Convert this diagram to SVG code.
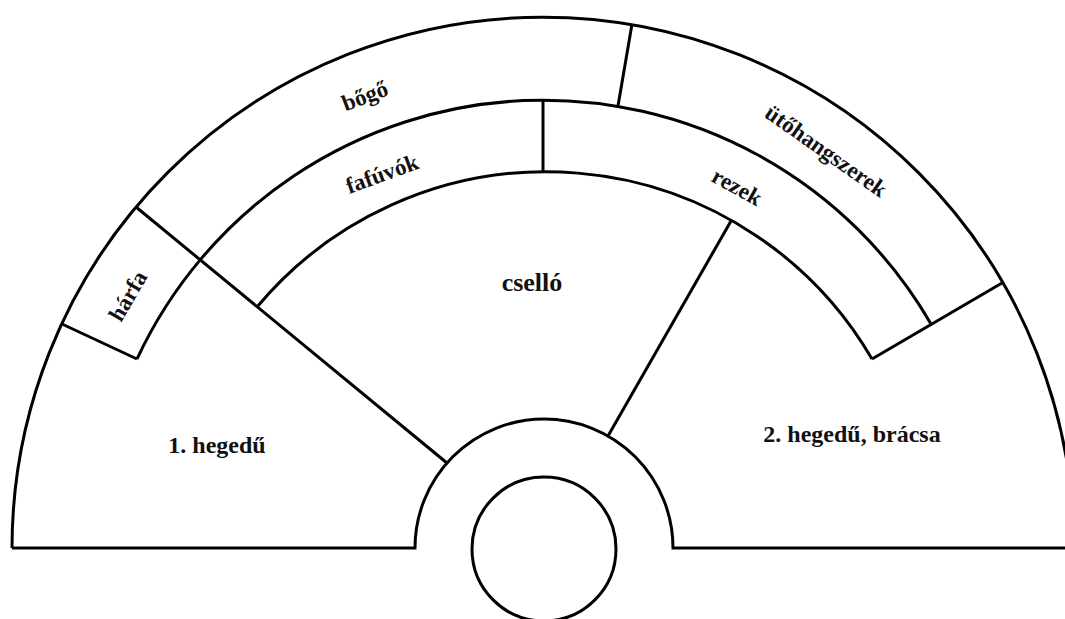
<svg xmlns="http://www.w3.org/2000/svg" width="1065" height="619" viewBox="0 0 1065 619">
<style>
.ln{fill:none;stroke:#000;stroke-width:3;stroke-linejoin:miter;stroke-linecap:butt}
.t{font-family:"Liberation Serif","Times New Roman",serif;font-weight:bold;font-size:24px;fill:#111;text-anchor:middle}
.r{font-size:23px;dominant-baseline:central}
</style>
<rect width="1065" height="619" fill="#fff"/>
<g id="connectors">
<path class="ln" d="M12,548 A531,531 0 0 1 1074,548"/>
<path class="ln" d="M12,548 L415,548 A129,129 0 0 1 673,548 L1066,548"/>
<circle class="ln" cx="544" cy="549" r="72"/>
<path class="ln" d="M137,359 A448,448 0 0 1 931,324"/>
<path class="ln" d="M257,307 A377,377 0 0 1 872,359"/>
<path class="ln" d="M62,324 L137,359"/>
<path class="ln" d="M136,207 L447,463"/>
<path class="ln" d="M632,24 L618,106"/>
<path class="ln" d="M543,100 L543,172"/>
<path class="ln" d="M731,221 L608,436"/>
<path class="ln" d="M1002,283 L872,359"/>
</g>
<g id="bogo"><text class="t r" transform="translate(365,96) rotate(-21)">bőgő</text></g>
<g id="utohangszerek"><text class="t r" transform="translate(826,151) rotate(35)">ütőhangszerek</text></g>
<g id="fafuvok"><text class="t r" transform="translate(382,174) rotate(-20)">fafúvók</text></g>
<g id="rezek"><text class="t r" transform="translate(737,187) rotate(29)">rezek</text></g>
<g id="harfa"><text class="t r" transform="translate(128,296) rotate(-60)">hárfa</text></g>
<g id="csello"><text class="t" x="532" y="291" style="font-size:26px">cselló</text></g>
<g id="hegedu1"><text class="t" x="217" y="453">1. hegedű</text></g>
<g id="hegedu2"><text class="t" x="852" y="442">2. hegedű, brácsa</text></g>
</svg>
